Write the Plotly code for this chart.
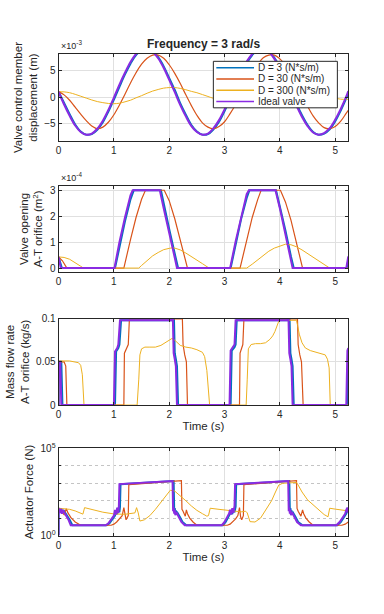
import plotly.graph_objects as go

# ---------------- data ----------------
# Panel 1: valve control member displacement (x 1e-3 m)
t_disp = [0.0, 0.1, 0.2, 0.3, 0.4, 0.5, 0.6, 0.7, 0.8, 0.9, 1.0, 1.1, 1.2, 1.3, 1.4, 1.5, 1.6, 1.7,
          1.8, 1.9, 2.0, 2.1, 2.2, 2.3, 2.4, 2.5, 2.6, 2.7, 2.8, 2.9, 3.0, 3.1, 3.2, 3.3, 3.4, 3.5,
          3.6, 3.7, 3.8, 3.9, 4.0, 4.1, 4.2, 4.3, 4.4, 4.5, 4.6, 4.7, 4.8, 4.9, 5.0, 5.1, 5.2, 5.236]
disp_ideal = [1.0, -1.4, -3.5, -5.3, -6.5, -7.0, -6.8, -5.9, -4.4, -2.4, -0.1, 2.3, 4.5, 6.5, 8.0, 8.8,
              9.0, 8.4, 7.2, 5.4, 3.2, 0.9, -1.5, -3.6, -5.4, -6.5, -7.0, -6.8, -5.8, -4.3, -2.3, 0.0,
              2.4, 4.7, 6.6, 8.0, 8.9, 9.0, 8.4, 7.1, 5.3, 3.1, 0.7, -1.6, -3.7, -5.4, -6.6, -7.0, -6.7,
              -5.8, -4.2, -2.2, 0.1, 1.1]
disp_d3 = [1.0, -1.1, -3.2, -5.1, -6.4, -7.0, -6.9, -6.1, -4.7, -2.7, -0.5, 1.9, 4.2, 6.2, 7.8, 8.7,
           9.0, 8.5, 7.4, 5.7, 3.5, 1.3, -1.2, -3.3, -5.2, -6.4, -7.0, -6.9, -6.0, -4.6, -2.6, -0.4,
           2.0, 4.4, 6.3, 7.8, 8.8, 9.0, 8.5, 7.3, 5.6, 3.4, 1.1, -1.3, -3.4, -5.2, -6.5, -7.0, -6.8,
           -6.0, -4.5, -2.5, -0.2, 0.7]
disp_d30 = [1.0, 0.4, -0.6, -1.9, -3.2, -4.4, -5.4, -5.9, -5.6, -4.7, -3.3, -1.5, 0.5, 2.6, 4.5, 6.1,
            7.2, 7.8, 7.8, 7.2, 6.0, 4.4, 2.5, 0.4, -1.6, -3.4, -4.8, -5.6, -5.9, -5.5, -4.6, -3.1,
            -1.4, 0.6, 2.6, 4.5, 6.1, 7.3, 7.8, 7.8, 7.1, 5.9, 4.3, 2.3, 0.3, -1.7, -3.5, -4.8, -5.7,
            -5.9, -5.5, -4.5, -3.0, -2.5]
disp_d300 = [1.0, 0.95, 0.8, 0.5, 0.15, -0.2, -0.55, -0.85, -1.05, -1.2, -1.25, -1.15, -0.9, -0.6,
             -0.15, 0.25, 0.7, 1.1, 1.4, 1.65, 1.75, 1.75, 1.6, 1.35, 1.05, 0.8, 0.45, 0.1, -0.25,
             -0.45, -0.55, -0.5, -0.35, -0.15, 0.0, 0.35, 0.75, 1.15, 1.5, 1.75, 1.95, 2.0, 1.95, 1.8,
             1.55, 1.25, 0.9, 0.55, 0.25, 0.0, -0.25, -0.4, -0.45, -0.45]

# Panel 2: valve opening A-T orifice (x 1e-4 m^2)
t_open_ideal = [0, 0.04, 1.01, 1.1, 1.2, 1.3, 1.34, 1.83, 1.9, 2.0, 2.1, 2.14, 3.1, 3.2, 3.3, 3.4,
                3.44, 3.92, 4.0, 4.1, 4.2, 4.23, 5.2, 5.236]
open_ideal = [0.43, 0, 0, 1.0, 1.95, 2.8, 3, 3, 2.3, 1.4, 0.4, 0, 0, 1.03, 2.0, 2.85, 3, 3, 2.3, 1.33,
              0.3, 0, 0, 0.45]
t_open_d3 = [0, 0.06, 1.02, 1.1, 1.2, 1.3, 1.36, 1.85, 1.9, 2.0, 2.1, 2.16, 3.11, 3.2, 3.3, 3.4, 3.45,
             3.93, 4.0, 4.1, 4.2, 4.25, 5.21, 5.236]
open_d3 = [0.43, 0, 0, 0.8, 1.8, 2.65, 3, 3, 2.45, 1.5, 0.55, 0, 0, 0.85, 1.9, 2.7, 3, 3, 2.4, 1.45,
           0.45, 0, 0, 0.3]
t_open_d30 = [0, 0.07, 0.15, 1.18, 1.3, 1.4, 1.5, 1.57, 1.91, 2.0, 2.1, 2.2, 2.33, 3.28, 3.4, 3.5,
              3.6, 3.66, 4.01, 4.1, 4.2, 4.3, 4.41, 5.236]
open_d30 = [0.43, 0.28, 0, 0, 1.1, 1.95, 2.65, 3, 3, 2.6, 1.9, 1.1, 0, 0, 1.1, 1.95, 2.65, 3, 3, 2.55,
            1.85, 1.0, 0, 0]
t_open_d300 = [0, 0.1, 0.2, 0.3, 0.4, 0.45, 1.45, 1.5, 1.6, 1.7, 1.8, 1.9, 2.0, 2.05, 2.1, 2.2, 2.3,
               2.4, 2.5, 2.6, 2.72, 3.4, 3.5, 3.6, 3.7, 3.8, 3.9, 4.0, 4.1, 4.2, 4.3, 4.4, 4.5, 4.6,
               4.7, 4.8, 4.9, 5.236]
open_d300 = [0.43, 0.41, 0.34, 0.22, 0.07, 0, 0, 0.1, 0.3, 0.47, 0.6, 0.71, 0.76, 0.78, 0.77, 0.7,
             0.58, 0.45, 0.32, 0.17, 0, 0, 0.15, 0.32, 0.5, 0.65, 0.77, 0.86, 0.92, 0.9, 0.82, 0.7,
             0.56, 0.41, 0.26, 0.12, 0, 0]

# Panel 3: mass flow rate A-T orifice (kg/s)
t_flow_ideal = [0, 0, 0.03, 0.05, 1.0, 1.02, 1.06, 1.08, 1.11, 2.05, 2.055, 2.065, 2.08, 2.1, 2.12,
                2.14, 3.09, 3.11, 3.16, 3.18, 3.2, 4.14, 4.145, 4.155, 4.17, 4.19, 4.21, 4.23, 5.2,
                5.22, 5.236]
flow_ideal = [0, 0.05, 0.05, 0, 0, 0.062, 0.066, 0.07, 0.098, 0.098, 0.13, 0.1, 0.06, 0.053, 0.045,
              0, 0, 0.063, 0.067, 0.07, 0.098, 0.098, 0.13, 0.1, 0.06, 0.053, 0.045, 0, 0, 0.063,
              0.066]
t_flow_d3 = [0, 0, 0.05, 0.07, 1.02, 1.04, 1.08, 1.1, 1.13, 2.07, 2.075, 2.085, 2.1, 2.12, 2.14, 2.16,
             3.11, 3.13, 3.18, 3.2, 3.22, 4.16, 4.165, 4.175, 4.19, 4.21, 4.23, 4.25, 5.22, 5.236]
flow_d3 = [0, 0.05, 0.05, 0, 0, 0.062, 0.066, 0.07, 0.098, 0.098, 0.13, 0.1, 0.06, 0.053, 0.045, 0,
           0, 0.063, 0.067, 0.07, 0.098, 0.098, 0.13, 0.1, 0.06, 0.053, 0.045, 0, 0, 0.05]
t_flow_d30 = [0, 0, 0.1, 0.13, 0.15, 1.18, 1.19, 1.24, 1.26, 1.28, 2.22, 2.225, 2.235, 2.25, 2.28,
              2.31, 2.33, 3.27, 3.28, 3.31, 3.33, 3.35, 4.3, 4.305, 4.315, 4.33, 4.36, 4.39, 4.42,
              5.236]
flow_d30 = [0, 0.05, 0.05, 0.045, 0, 0, 0.06, 0.066, 0.07, 0.0995, 0.0995, 0.13, 0.1, 0.07, 0.058,
            0.05, 0, 0, 0.06, 0.066, 0.07, 0.0995, 0.0995, 0.13, 0.1, 0.07, 0.058, 0.05, 0, 0]
t_flow_d300 = [0, 0, 0.2, 0.3, 0.36, 0.4, 0.43, 0.46, 1.42, 1.45, 1.47, 1.5, 1.56, 1.65, 1.75, 1.85,
               1.95, 2.05, 2.1, 2.2, 2.3, 2.4, 2.5, 2.6, 2.64, 2.68, 2.73, 3.39, 3.41, 3.43, 3.48,
               3.56, 3.65, 3.74, 3.82, 3.87, 3.91, 3.95, 3.98, 4.0, 4.3, 4.32, 4.35, 4.4, 4.46, 4.55,
               4.64, 4.73, 4.82, 4.86, 4.89, 4.91, 5.236]
flow_d300 = [0, 0.051, 0.051, 0.05, 0.049, 0.046, 0.035, 0, 0, 0.03, 0.058, 0.065, 0.067, 0.067,
             0.067, 0.069, 0.073, 0.077, 0.075, 0.069, 0.067, 0.066, 0.064, 0.061, 0.056, 0.04, 0,
             0, 0.03, 0.065, 0.07, 0.071, 0.071, 0.072, 0.076, 0.08, 0.085, 0.092, 0.097, 0.098,
             0.098, 0.092, 0.082, 0.072, 0.066, 0.063, 0.0615, 0.06, 0.058, 0.053, 0.043, 0, 0]

# Panel 4: actuator force (N)
t_force_ideal = [0, 0, 0.02, 0.04, 0.06, 0.08, 0.1, 0.14, 0.18, 0.22, 0.85, 0.9, 0.95, 1.0, 1.02,
                 1.04, 1.06, 1.08, 1.09, 1.10, 2.06, 2.07, 2.08, 2.09, 2.1, 2.11, 2.13, 2.17, 2.22,
                 2.28, 2.95, 3.0, 3.05, 3.08, 3.1, 3.12, 3.14, 3.16, 3.18, 3.19, 4.15, 4.16, 4.17,
                 4.18, 4.19, 4.2, 4.22, 4.26, 4.31, 4.38, 5.02, 5.08, 5.14, 5.18, 5.2, 5.22, 5.236]
force_ideal = [1, 37, 20, 35, 18, 30, 22, 14, 8, 3.9, 3.9, 5, 8, 14, 30, 16, 40, 20, 50, 900,
               1350, 25, 40, 18, 30, 15, 22, 12, 6, 3.9, 3.9, 6, 11, 18, 30, 16, 38, 20, 50, 900,
               1350, 25, 40, 18, 30, 15, 22, 12, 6, 3.9, 3.9, 6, 11, 18, 30, 40, 20]
t_force_d3 = [0, 0, 0.03, 0.05, 0.07, 0.09, 0.12, 0.16, 0.2, 0.25, 0.87, 0.92, 0.97, 1.02, 1.04,
              1.06, 1.08, 1.1, 1.11, 1.12, 2.08, 2.09, 2.1, 2.11, 2.12, 2.13, 2.15, 2.19, 2.24, 2.31,
              2.97, 3.02, 3.07, 3.1, 3.12, 3.14, 3.16, 3.18, 3.2, 3.21, 4.17, 4.18, 4.19, 4.2, 4.21,
              4.22, 4.24, 4.28, 4.33, 4.41, 5.04, 5.1, 5.16, 5.2, 5.22, 5.236]
force_d3 = [1, 37, 22, 33, 20, 28, 20, 13, 8, 3.9, 3.9, 5, 8, 14, 28, 17, 38, 22, 45, 880,
            1340, 28, 38, 20, 28, 16, 20, 12, 6, 3.9, 3.9, 6, 11, 18, 28, 17, 36, 22, 45, 880,
            1340, 28, 38, 20, 28, 16, 20, 12, 6, 3.9, 3.9, 6, 11, 18, 30, 38]
t_force_d30 = [0, 0.03, 0.06, 0.1, 0.12, 0.14, 0.17, 0.22, 0.3, 0.4, 0.95, 1.0, 1.05, 1.1, 1.15,
               1.18, 1.2, 1.22, 1.26, 1.27, 2.22, 2.23, 2.25, 2.29, 2.31, 2.33, 2.37, 2.43, 2.5,
               3.05, 3.1, 3.15, 3.2, 3.24, 3.27, 3.29, 3.31, 3.34, 3.35, 4.3, 4.31, 4.33, 4.38,
               4.41, 4.43, 4.47, 4.53, 4.6, 5.12, 5.18, 5.236]
force_d30 = [37, 30, 22, 16, 28, 35, 20, 11, 6, 3.9, 3.9, 4.5, 6, 9, 14, 40, 12, 8, 14, 850,
             1400, 32, 25, 13, 30, 18, 10, 6, 3.9, 3.9, 4.5, 6, 9, 14, 40, 12, 8, 14, 850,
             1420, 36, 25, 13, 30, 18, 10, 6, 3.9, 3.9, 4.5, 6]
t_force_d300 = [0, 0.1, 0.2, 0.3, 0.4, 0.44, 0.47, 0.6, 0.8, 1.0, 1.2, 1.38, 1.41, 1.44, 1.47, 1.55,
                1.65, 1.75, 1.85, 1.95, 2.02, 2.1, 2.2, 2.3, 2.4, 2.5, 2.6, 2.68, 2.71, 2.74, 2.9,
                3.1, 3.3, 3.38, 3.41, 3.46, 3.55, 3.65, 3.75, 3.85, 3.92, 3.98, 4.05, 4.3, 4.33, 4.4,
                4.5, 4.6, 4.7, 4.8, 4.87, 4.9, 5.0, 5.1, 5.236]
force_d300 = [37, 35, 32, 26, 20, 17, 40, 32, 22, 17.4, 16.6, 20, 40, 20, 6.8, 8, 14, 32, 80, 224,
              400, 355, 200, 100, 50, 28, 18, 13, 14, 37, 32, 26, 23, 25, 20, 6.3, 6, 10, 32, 100,
              316, 794, 1000, 1120, 794, 316, 112, 56, 28, 16, 12, 37, 33, 30, 26]

series_names = ["D = 3 (N*s/m)", "D = 30 (N*s/m)", "D = 300 (N*s/m)", "Ideal valve"]
x_ticks = [0, 1, 2, 3, 4, 5]

# ---------------- styling ----------------
COLORS = ["#0072BD", "#D95319", "#EDB120", "#8A2BE2"]
WIDTHS = [2.0, 1.2, 1.0, 2.0]
FONT = "Liberation Sans, Arial, Helvetica, sans-serif"
INK = "#262626"
GRID = "#e0e0e0"
TITLE_SIZE = 11.5
W, H = 384, 614

def px_x(p):
    return p / W

def px_y(p):
    return 1 - p / H

XDOM = [px_x(56), px_x(348)]
YDOMS = [[px_y(137), px_y(48)], [px_y(270.7), px_y(182.7)],
         [px_y(406.7), px_y(318.3)], [px_y(540), px_y(451)]]

fig = go.Figure()

panels = [
    [(t_disp, disp_d3), (t_disp, disp_d30), (t_disp, disp_d300), (t_disp, disp_ideal)],
    [(t_open_d3, open_d3), (t_open_d30, open_d30), (t_open_d300, open_d300), (t_open_ideal, open_ideal)],
    [(t_flow_d3, flow_d3), (t_flow_d30, flow_d30), (t_flow_d300, flow_d300), (t_flow_ideal, flow_ideal)],
    [(t_force_d3, force_d3), (t_force_d30, force_d30), (t_force_d300, force_d300), (t_force_ideal, force_ideal)],
]

for p, series in enumerate(panels):
    suffix = "" if p == 0 else str(p + 1)
    for k, (tx, vy) in enumerate(series):
        fig.add_trace(go.Scatter(
            x=tx, y=vy, mode="lines", name=series_names[k],
            line=dict(color=COLORS[k], width=WIDTHS[k], shape="spline" if p == 0 else "linear"),
            xaxis="x" + suffix, yaxis="y" + suffix,
            showlegend=False, hoverinfo="skip"))

def xax(anchor, title=None):
    d = dict(domain=XDOM, anchor=anchor, range=[0, 5.236], tickmode="array", tickvals=x_ticks,
             showgrid=True, gridcolor=GRID, gridwidth=1, zeroline=False,
             showline=True, linecolor=INK, linewidth=1, mirror="ticks",
             ticks="inside", ticklen=3, tickcolor=INK,
             tickfont=dict(family=FONT, size=10, color=INK))
    if title:
        d["title"] = dict(text=title, font=dict(family=FONT, size=TITLE_SIZE, color=INK), standoff=2)
    return d

def yax(anchor, dom, title, **kw):
    d = dict(domain=dom, anchor=anchor, showgrid=True, gridcolor=GRID, gridwidth=1, zeroline=False,
             showline=True, linecolor=INK, linewidth=1, mirror="ticks",
             ticks="inside", ticklen=3, tickcolor=INK,
             tickfont=dict(family=FONT, size=10, color=INK),
             title=dict(text=title, font=dict(family=FONT, size=TITLE_SIZE, color=INK), standoff=4))
    d.update(kw)
    return d

# compact legend (box, line samples, labels)
LEG_BOX = (212, 337, 55.5, 103)
LEG_ROWS = [62, 73.5, 85, 96.5]
shapes = [dict(type="rect", xref="paper", yref="paper",
               x0=px_x(LEG_BOX[0]), x1=px_x(LEG_BOX[1]), y0=px_y(LEG_BOX[3]), y1=px_y(LEG_BOX[2]),
               fillcolor="white", line=dict(color=INK, width=1), layer="above")]
annotations = []
for k, name in enumerate(series_names):
    yy = px_y(LEG_ROWS[k])
    shapes.append(dict(type="line", xref="paper", yref="paper", x0=px_x(215), x1=px_x(253),
                       y0=yy, y1=yy, line=dict(color=COLORS[k], width=1.5), layer="above"))
    annotations.append(dict(text=name, x=px_x(255), y=yy, xref="paper", yref="paper",
                            xanchor="left", yanchor="middle", showarrow=False,
                            font=dict(family=FONT, size=10, color=INK)))

annotations += [
    dict(text="<b>Frequency = 3 rad/s</b>", x=px_x(202), y=px_y(38), xref="paper", yref="paper",
         xanchor="center", yanchor="middle", showarrow=False,
         font=dict(family=FONT, size=12, color=INK)),
    dict(text="×10<sup>-3</sup>", x=XDOM[0], y=px_y(47), xref="paper", yref="paper",
         xanchor="left", yanchor="bottom", showarrow=False,
         font=dict(family=FONT, size=9, color=INK)),
    dict(text="×10<sup>-4</sup>", x=XDOM[0], y=px_y(181.5), xref="paper", yref="paper",
         xanchor="left", yanchor="bottom", showarrow=False,
         font=dict(family=FONT, size=9, color=INK)),
]

fig.update_layout(
    width=W, height=H,
    margin=dict(l=0, r=0, t=0, b=0),
    paper_bgcolor="white", plot_bgcolor="white",
    font=dict(family=FONT, color=INK),
    showlegend=False,
    xaxis=xax("y"),
    xaxis2=xax("y2"),
    xaxis3=xax("y3", "Time (s)"),
    xaxis4=xax("y4", "Time (s)"),
    yaxis=yax("x", YDOMS[0], "Valve control member<br>displacement (m)",
              range=[-8.2, 8.0], tickvals=[-5, 0, 5]),
    yaxis2=yax("x2", YDOMS[1], "Valve opening<br>A-T orifice (m<sup>2</sup>)",
               range=[-0.15, 3.17], tickvals=[0, 1, 2, 3]),
    yaxis3=yax("x3", YDOMS[2], "Mass flow rate<br>A-T orifice (kg/s)",
               range=[0, 0.1], tickvals=[0, 0.05, 0.1], ticktext=["0", "0.05", "0.1"]),
    yaxis4=yax("x4", YDOMS[3], "Actuator Force (N)",
               type="log", range=[0, 5], tickvals=[1, 100000],
               ticktext=["10<sup>0</sup>", "10<sup>5</sup>"], showgrid=False,
               minor=dict(tickmode="array", tickvals=[10, 100, 1000, 10000], showgrid=True,
                          griddash="dot", gridcolor="#c4c4c4", ticks="inside", ticklen=2,
                          tickcolor=INK)),
    shapes=shapes,
    annotations=annotations,
)

fig.write_html("out.html", config={"displayModeBar": False},
               post_script="document.body.style.margin='0px';")
